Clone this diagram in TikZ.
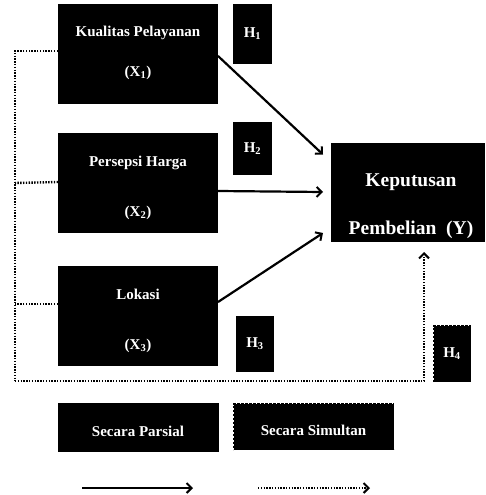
\documentclass[tikz,border=0pt]{standalone}
\usepackage{fontspec}
\setmainfont{Liberation Serif}
\usetikzlibrary{arrows.meta,calc}
\tikzset{
  blk/.style={fill=black,draw=none,inner sep=0pt,outer sep=0pt},
  dblk/.style={fill=black,draw=black,line width=1.8pt,dash pattern=on 2.2pt off 1.8pt,inner sep=0pt,outer sep=0pt},
  lbl/.style={text=white,font=\bfseries\fontsize{15}{15}\selectfont,inner sep=0pt},
  lblbig/.style={text=white,font=\bfseries\fontsize{19.5}{19.5}\selectfont,inner sep=0pt},
  sol/.style={line width=2.2pt,-{Straight Barb[length=5pt,width=10pt,line width=2pt]}},
  dotl/.style={line width=2.4pt,dash pattern=on 1.4pt off 1.4pt},
  dota/.style={dotl,-{Straight Barb[length=5pt,width=10pt,line width=2pt]}},
}
\begin{document}
\begin{tikzpicture}[x=1pt,y=-1pt]
\useasboundingbox (0,0) rectangle (486,495);
% boxes
\node[blk,minimum width=160pt,minimum height=100pt] (x1) at (138,54) {};
\node[blk,minimum width=160pt,minimum height=100pt] (x2) at (138,183) {};
\node[blk,minimum width=160pt,minimum height=100pt] (x3) at (138,316) {};
\node[blk,minimum width=154pt,minimum height=99pt] (y) at (408,192.5) {};
\node[blk,minimum width=39pt,minimum height=60pt] (h1) at (252.5,34) {};
\node[blk,minimum width=39pt,minimum height=53pt] (h2) at (252.5,148.5) {};
\node[blk,minimum width=38pt,minimum height=56pt] (h3) at (255,344) {};
\node[dblk,minimum width=37pt,minimum height=56pt] (h4) at (452,353.5) {};
\node[blk,minimum width=161pt,minimum height=49pt] (sp) at (138.5,427.5) {};
\node[dblk,minimum width=160pt,minimum height=46pt] (ss) at (313.5,426.5) {};
% texts
\node[lbl] (t1a) at (138,33) {Kualitas Pelayanan};
\node[lbl] (t1b) at (138,73) {(X\textsubscript{1})};
\node[lbl] (t2a) at (138,163) {Persepsi Harga};
\node[lbl] (t2b) at (138,213) {(X\textsubscript{2})};
\node[lbl] (t3a) at (138,294) {Lokasi};
\node[lbl] (t3b) at (138,346) {(X\textsubscript{3})};
\node[lblbig] (tya) at (411,182) {Keputusan};
\node[lblbig] (tyb) at (411,230) {Pembelian\ \ (Y)};
\node[lbl] (th1) at (h1) {H\textsubscript{1}};
\node[lbl] (th2) at (h2) {H\textsubscript{2}};
\node[lbl] (th3) at (h3) {H\textsubscript{3}};
\node[lbl] (th4) at (h4) {H\textsubscript{4}};
\node[lbl] (tsp) at (138,431) {Secara\ Parsial};
\node[lbl] (tss) at (313.5,430) {Secara\ Simultan};
% solid arrows
\draw[sol] ([yshift=-2pt]x1.east) -- ([xshift=-8pt,yshift=38pt]y.west);
\draw[sol] ([yshift=-8pt]x2.east) -- ([xshift=-8pt,yshift=0.5pt]y.west);
\draw[sol] ([yshift=14pt]x3.east) -- ([xshift=-8pt,yshift=-40.5pt]y.west);
% dotted simultaneous path
\coordinate (tl) at (15,51);
\coordinate (bl) at (15,381);
\coordinate (br) at (424,381);
\coordinate (tip) at (424,252);
\draw[dotl] ([yshift=3pt]x1.west) -- (tl) -- (bl);
\draw[dotl] ([yshift=1pt]x2.west) -- (x2.west -| tl);
\draw[dotl] ([yshift=12pt]x3.west) -- ([yshift=12pt]x3.west -| tl);
\draw[dota] (bl) -- (br) -- (tip);
% legend
\coordinate (la) at (82,488);
\coordinate (lb) at (193,488);
\coordinate (lc) at (258,488);
\coordinate (ld) at (370,488);
\draw[sol] (la) -- (lb);
\draw[dota] (lc) -- (ld);
\end{tikzpicture}
\end{document}
